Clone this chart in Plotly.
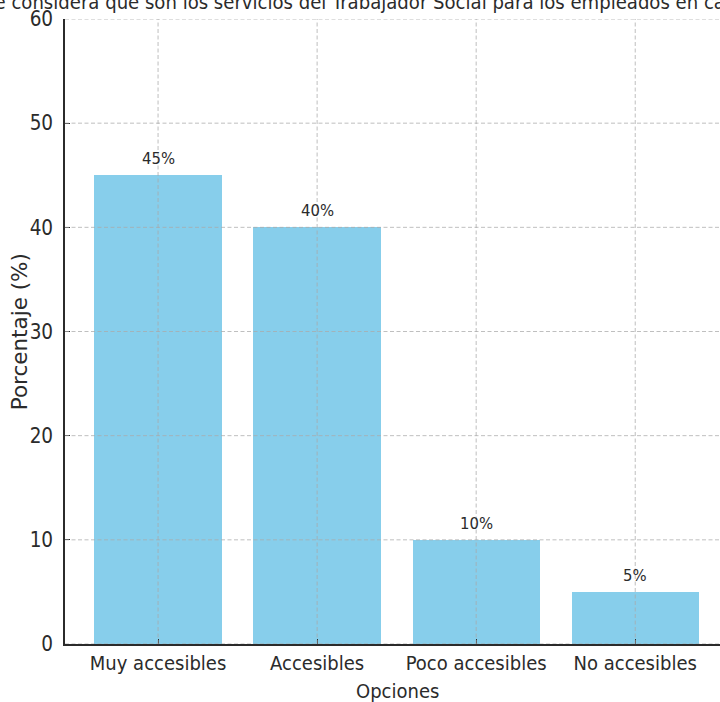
import plotly.graph_objects as go

# Survey results
categories = ["Muy accesibles", "Accesibles", "Poco accesibles", "No accesibles"]
percentages = [45, 40, 10, 5]
y_ticks = [0, 10, 20, 30, 40, 50, 60]

title_text = ("¿Qué tan accesible considera que son los servicios del Trabajador Social "
              "para los empleados en casos de emergencia?")

BAR_COLOR = "#87CEEB"
INK = "#2b2b2b"
GRID = "rgba(170,170,170,0.75)"
FONT_H = "DejaVu Sans Condensed, DejaVu Sans, sans-serif"
FONT_V = "DejaVu Sans, sans-serif"

fig = go.Figure()
fig.add_trace(go.Bar(
    x=list(range(len(categories))),
    y=percentages,
    width=0.8,
    marker=dict(color=BAR_COLOR, line=dict(width=0)),
    hoverinfo="skip",
))

# value labels above each bar
for i, v in enumerate(percentages):
    fig.add_annotation(
        x=i, y=v, xref="x", yref="y",
        text=f"{v}%", showarrow=False,
        yanchor="bottom", yshift=5,
        font=dict(family=FONT_H, size=16.5, color=INK),
    )

# dashed grid drawn on top of the bars
grid_shapes = []
for t in y_ticks:
    grid_shapes.append(dict(type="line", xref="paper", yref="y", x0=0, x1=1, y0=t, y1=t,
                            line=dict(color=GRID, width=1, dash="4px,2.5px"), layer="above"))
for i in range(len(categories)):
    grid_shapes.append(dict(type="line", xref="x", yref="paper", x0=i, x1=i, y0=0, y1=1,
                            line=dict(color=GRID, width=1, dash="4px,2.5px"), layer="above"))
fig.update_layout(shapes=grid_shapes)

# title (wider than the page, centred over the axes)
fig.add_annotation(
    x=0.465, y=1.0, xref="paper", yref="paper",
    text=title_text, showarrow=False,
    xanchor="center", yanchor="bottom", yshift=3,
    font=dict(family=FONT_H, size=20.1, color=INK),
)

# axis titles
fig.add_annotation(
    x=0.507, y=0, xref="paper", yref="paper",
    text="Opciones", showarrow=False,
    xanchor="center", yanchor="top", yshift=-33,
    font=dict(family=FONT_H, size=20, color=INK),
)
fig.add_annotation(
    x=-0.069, y=0.5, xref="paper", yref="paper",
    text="Porcentaje (%)", showarrow=False, textangle=-90,
    xanchor="center", yanchor="middle",
    font=dict(family=FONT_V, size=21.5, color=INK),
)

fig.update_xaxes(
    range=[-0.585, 3.533],
    tickmode="array", tickvals=list(range(len(categories))), ticktext=categories,
    showgrid=False, zeroline=False,
    showline=True, linecolor=INK, linewidth=1.6,
    ticks="inside", ticklen=5, tickwidth=1.3, tickcolor=INK,
    tickfont=dict(family=FONT_H, size=20, color=INK),
    ticklabelstandoff=0,
)
fig.update_yaxes(
    range=[0, 60],
    tickmode="array", tickvals=y_ticks,
    showgrid=False, zeroline=False,
    showline=True, linecolor=INK, linewidth=1.6,
    ticks="inside", ticklen=5, tickwidth=1.3, tickcolor=INK,
    tickfont=dict(family=FONT_H, size=20.5, color=INK),
    ticklabelstandoff=6,
)

fig.update_layout(
    width=720, height=702,
    margin=dict(l=65, r=0, t=19, b=58),
    plot_bgcolor="white", paper_bgcolor="white",
    showlegend=False,
    bargap=0,
)

fig.write_html("out.html")
